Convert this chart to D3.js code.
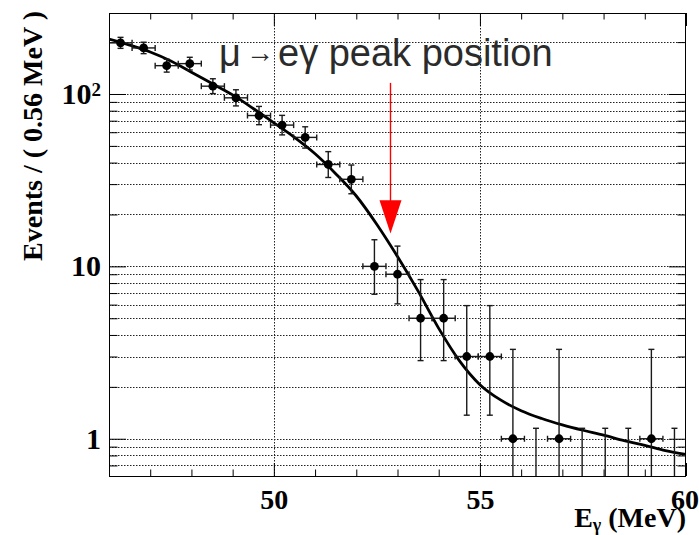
<!DOCTYPE html>
<html>
<head>
<meta charset="utf-8">
<script src="https://cdn.jsdelivr.net/npm/d3@7"></script>
<style>
  html, body { margin: 0; padding: 0; background: #fff; }
  svg { display: block; }
</style>
</head>
<body>
<svg id="chart" width="699" height="535"></svg>
<script>
// Photon energy spectrum: binned counts (0.56 MeV bins) with Poisson errors,
// the fitted background shape, and the expected signal peak position.
const binCenters = [46.28, 46.84, 47.40, 47.96, 48.52, 49.08, 49.64, 50.20, 50.76, 51.32,
                    51.88, 52.44, 53.00, 53.56, 54.12, 54.68, 55.24, 55.80, 56.36, 56.92,
                    57.48, 58.04, 58.60, 59.16, 59.72];
const counts     = [198, 185, 146, 150, 111, 95, 75, 66, 56, 39,
                    32, 10, 9, 5, 5, 3, 3, 1, 0, 1,
                    0, 0, 0, 1, 0];
const errLow     = [14.06, 13.59, 12.07, 12.23, 10.52, 9.73, 8.64, 8.10, 7.46, 6.22,
                    5.62, 3.11, 2.94, 2.16, 2.16, 1.63, 1.63, 0.83, 0, 0.83,
                    0, 0, 0, 0.83, 0];
const errHigh    = [15.10, 14.63, 13.11, 13.28, 11.57, 10.79, 9.70, 9.17, 8.53, 7.30,
                    6.72, 4.27, 4.11, 3.38, 3.38, 2.92, 2.92, 2.30, 1.15, 2.30,
                    1.15, 1.15, 1.15, 2.30, 1.15];
const binHalfWidth = 0.28;

// Fitted PDF, projected onto the same binning
const curveX = [46.0, 46.5, 47.0, 47.5, 48.0, 48.5, 49.0, 49.5, 50.0, 50.5,
                51.0, 51.5, 52.0, 52.5, 53.0, 53.5, 54.0, 54.5, 55.0, 55.5,
                56.0, 56.5, 57.0, 57.5, 58.0, 58.5, 59.0, 59.5, 60.0];
const curveY = [208.4, 192.1, 175.2, 155.4, 133.8, 114.9, 98.8, 82.4, 68.0, 56.0,
                45.0, 34.5, 25.6, 17.5, 11.4, 7.18, 4.37, 2.84, 2.06, 1.68,
                1.455, 1.311, 1.204, 1.120, 1.050, 0.975, 0.916, 0.853, 0.811];

// Axis ticks
const xMajorTicks = [50, 55, 60];
const xMinorTicks = [47, 48, 49, 51, 52, 53, 54, 56, 57, 58, 59];
const yMajorTicks = [1, 10, 100];
const yMinorTicks = [0.7, 0.8, 0.9, 2, 3, 4, 5, 6, 7, 8, 9,
                     20, 30, 40, 50, 60, 70, 80, 90, 200];
const xDomain = [46, 60];
const yDomain = [0.608, 295];

// Signal annotation
const peakLabel = ["μ", "→", "eγ peak position"];
const peakEnergy = 52.83;
const arrowTop = 116, arrowHeadBase = 24.2, arrowTip = 15.5;

const W = 699, H = 535;
const plot = { left: 109, right: 686, top: 13, bottom: 476 };
const svg = d3.select("#chart");

const x = d3.scaleLinear().domain(xDomain).range([plot.left, plot.right]);
const y = d3.scaleLog().domain(yDomain).range([plot.bottom, plot.top]);

svg.append("rect").attr("width", W).attr("height", H).attr("fill", "#fff");

svg.append("defs").append("clipPath").attr("id", "plotClip")
  .append("rect")
  .attr("x", plot.left).attr("y", plot.top)
  .attr("width", plot.right - plot.left).attr("height", plot.bottom - plot.top);

// Dotted grid
const grid = svg.append("g").attr("class", "grid")
  .attr("stroke", "#222").attr("stroke-width", 1).attr("stroke-dasharray", "1.5,1.5");
grid.selectAll("line.h")
  .data(yMajorTicks.concat(yMinorTicks))
  .join("line").attr("class", "h")
  .attr("x1", plot.left).attr("x2", plot.right)
  .attr("y1", d => Math.round(y(d)) + 0.5).attr("y2", d => Math.round(y(d)) + 0.5);
grid.selectAll("line.v")
  .data(xMajorTicks.filter(d => d < xDomain[1]))
  .join("line").attr("class", "v")
  .attr("y1", plot.top).attr("y2", plot.bottom)
  .attr("x1", d => Math.round(x(d)) + 0.5).attr("x2", d => Math.round(x(d)) + 0.5);

// Axes (ticks pointing inward, ROOT style)
const serif = "'Liberation Serif', 'Times New Roman', serif";
function styleAxis(g) {
  g.select(".domain").remove();
  g.selectAll(".tick line").attr("stroke", "#000").attr("stroke-width", 1);
  g.selectAll(".tick text")
    .attr("fill", "#000")
    .style("font-family", serif).style("font-weight", "bold").style("font-size", "28px");
}

const xBottom = svg.append("g").attr("transform", `translate(0,${plot.bottom})`)
  .call(d3.axisBottom(x).tickValues(xMajorTicks).tickSize(-13).tickPadding(13).tickFormat(d3.format("d")))
  .call(styleAxis);
// keep the last label inside the canvas
xBottom.selectAll(".tick text").filter(d => d === xDomain[1]).attr("dx", -1.5);
svg.append("g").attr("transform", `translate(0,${plot.bottom})`)
  .call(d3.axisBottom(x).tickValues(xMinorTicks).tickSize(-6.5).tickFormat(""))
  .call(styleAxis);
svg.append("g").attr("transform", `translate(0,${plot.top})`)
  .call(d3.axisTop(x).tickValues(xMajorTicks).tickSize(-13).tickFormat(""))
  .call(styleAxis);
svg.append("g").attr("transform", `translate(0,${plot.top})`)
  .call(d3.axisTop(x).tickValues(xMinorTicks).tickSize(-6.5).tickFormat(""))
  .call(styleAxis);

const yLeft = svg.append("g").attr("transform", `translate(${plot.left},0)`)
  .call(d3.axisLeft(y).tickValues(yMajorTicks).tickSize(-17).tickPadding(8).tickFormat(d => d === 100 ? "10" : String(d)))
  .call(styleAxis);
yLeft.selectAll(".tick text").style("font-size", "30px");
yLeft.selectAll(".tick text").filter(d => d === 100)
  .append("tspan").text("2")
  .attr("dy", "-0.45em").style("font-size", "19px");
svg.append("g").attr("transform", `translate(${plot.left},0)`)
  .call(d3.axisLeft(y).tickValues(yMinorTicks).tickSize(-8.5).tickFormat(""))
  .call(styleAxis);
svg.append("g").attr("transform", `translate(${plot.right},0)`)
  .call(d3.axisRight(y).tickValues(yMajorTicks).tickSize(-17).tickFormat(""))
  .call(styleAxis);
svg.append("g").attr("transform", `translate(${plot.right},0)`)
  .call(d3.axisRight(y).tickValues(yMinorTicks).tickSize(-8.5).tickFormat(""))
  .call(styleAxis);

// Axis titles
svg.append("text")
  .attr("transform", `translate(42,${plot.top - 2}) rotate(-90)`)
  .attr("text-anchor", "end")
  .style("font-family", serif).style("font-weight", "bold").style("font-size", "28px")
  .text("Events / ( 0.56 MeV )");

const xt = svg.append("text")
  .attr("x", plot.right).attr("y", 527)
  .attr("text-anchor", "end")
  .style("font-family", serif).style("font-weight", "bold").style("font-size", "28px");
xt.append("tspan").text("E");
xt.append("tspan").text("γ").attr("dy", "0.2em").style("font-size", "18px");
xt.append("tspan").text(" (MeV)").attr("dy", "-0.13em");

// Plot contents
const content = svg.append("g").attr("clip-path", "url(#plotClip)");

// Fitted curve
const line = d3.line()
  .x((d, i) => x(curveX[i]))
  .y(d => y(d))
  .curve(d3.curveMonotoneX);
content.append("path")
  .datum(curveY)
  .attr("d", line)
  .attr("fill", "none")
  .attr("stroke", "#000")
  .attr("stroke-width", 2.8)
  .attr("stroke-linejoin", "round");

// Data points with asymmetric errors
const pts = binCenters.map((c, i) => ({ c, n: counts[i], lo: errLow[i], hi: errHigh[i] }));
const yAt = v => v > 0 ? y(v) : plot.bottom + 5;
const errG = content.append("g").attr("stroke", "#1a1a1a").attr("stroke-width", 1.4);
const cap = 3;

pts.forEach(p => {
  const cx = x(p.c);
  const yTop = yAt(p.n + p.hi);
  const yBot = yAt(p.n - p.lo);
  errG.append("line").attr("x1", cx).attr("x2", cx).attr("y1", yTop).attr("y2", yBot);
  errG.append("line").attr("x1", cx - cap).attr("x2", cx + cap).attr("y1", yTop).attr("y2", yTop);
  if (p.n - p.lo > 0) {
    errG.append("line").attr("x1", cx - cap).attr("x2", cx + cap).attr("y1", yBot).attr("y2", yBot);
  }
  if (p.n > 0) {
    const cy = y(p.n);
    const xl = x(p.c - binHalfWidth), xr = x(p.c + binHalfWidth);
    errG.append("line").attr("x1", xl).attr("x2", xr).attr("y1", cy).attr("y2", cy);
    errG.append("line").attr("x1", xl).attr("x2", xl).attr("y1", cy - cap).attr("y2", cy + cap);
    errG.append("line").attr("x1", xr).attr("x2", xr).attr("y1", cy - cap).attr("y2", cy + cap);
  }
});

content.append("g").selectAll("circle")
  .data(pts.filter(p => p.n > 0))
  .join("circle")
  .attr("cx", p => x(p.c))
  .attr("cy", p => y(p.n))
  .attr("r", 4.4)
  .attr("fill", "#000");

// Frame
svg.append("rect")
  .attr("x", plot.left + 0.5).attr("y", plot.top + 0.5)
  .attr("width", plot.right - plot.left - 1).attr("height", plot.bottom - plot.top)
  .attr("fill", "none").attr("stroke", "#000").attr("stroke-width", 1);

// Signal peak annotation
const ax = x(peakEnergy);
svg.append("line")
  .attr("x1", ax).attr("x2", ax)
  .attr("y1", y(arrowTop)).attr("y2", y(arrowHeadBase) + 1)
  .attr("stroke", "#ff0000").attr("stroke-width", 1.4);
svg.append("path")
  .attr("d", `M${ax - 11},${y(arrowHeadBase)} L${ax + 11},${y(arrowHeadBase)} L${ax},${y(arrowTip)} Z`)
  .attr("fill", "#ff0000");

const sans = "'Liberation Sans', Arial, sans-serif";
const lbl = svg.append("text")
  .attr("y", 66)
  .attr("fill", "#2b2b2b")
  .style("font-family", sans).style("font-size", "38px");
lbl.append("tspan").attr("x", 219).text(peakLabel[0]);
lbl.append("tspan").attr("x", 246).attr("dy", -4).style("font-size", "28px").text(peakLabel[1]);
lbl.append("tspan").attr("x", 278).attr("dy", 4).text(peakLabel[2]);
</script>
</body>
</html>
